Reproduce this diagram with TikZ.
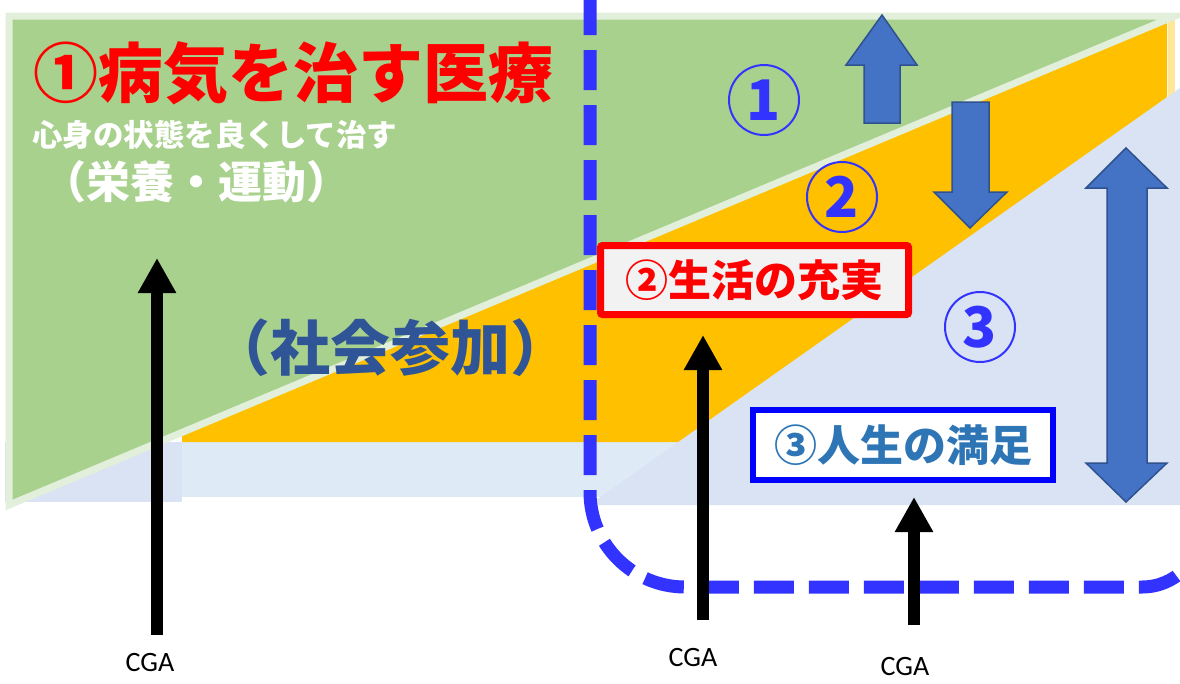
\documentclass[tikz,border=0pt]{standalone}
\usepackage{fontspec}
\newfontfamily\cjk{Noto Sans CJK JP}
\setsansfont{Carlito}
\usetikzlibrary{arrows.meta}
\definecolor{grn}{HTML}{A9D18E}
\definecolor{grnpale}{HTML}{E2EFDA}
\definecolor{org}{HTML}{FFC000}
\definecolor{orgpale}{HTML}{FFE699}
\definecolor{lblue}{HTML}{DAE3F3}
\definecolor{bandblue}{HTML}{DEEBF7}
\definecolor{arrfill}{HTML}{4472C4}
\definecolor{arrdraw}{HTML}{2F528F}
\definecolor{dashblue}{HTML}{3333FF}
\definecolor{navy}{HTML}{2F5597}
\definecolor{midblue}{HTML}{2E75B6}
\definecolor{boxgray}{HTML}{F2F2F2}
\definecolor{pureblue}{HTML}{0000FF}
\definecolor{purered}{HTML}{FF0000}
\begin{document}
\begin{tikzpicture}[x=1pt,y=-1pt,
  blockarrow/.style={fill=arrfill,draw=arrdraw,line width=1.5pt,line join=miter},
  cga/.style={font=\sffamily\fontsize{28}{30}\selectfont,inner sep=0pt},
  cgaarrow/.style={line width=12pt,-{Triangle[width=36pt,length=35pt]}},
  numcircle/.style={circle,draw=dashblue,line width=2pt,minimum size=70pt,inner sep=0pt,text=dashblue,font=\cjk\bfseries\fontsize{56}{56}\selectfont},
  txt/.style={inner sep=0pt}]
\useasboundingbox (0,0) rectangle (1180,683);
\clip (0,0) rectangle (1180,683);
\fill[white] (0,0) rectangle (1180,683);
% bands and background shapes
\fill[lblue] (5,442) rectangle (182,502);
\fill[bandblue] (182,442) rectangle (1180,497);
\fill[org] (182,442) -- (182,428) -- (1167,15) -- (1167,442) -- cycle;
\draw[orgpale,line width=7pt] (1171,17) -- (1171,100);
\fill[lblue] (589,505) -- (1180,88) -- (1180,505) -- cycle;
\filldraw[fill=grn,draw=grnpale,line width=7pt,line join=miter] (9,16) -- (1175,16) -- (9,505) -- cycle;
% dashed boundary
\draw[dashblue,line width=13pt,dash pattern=on 40pt off 15pt]
  (590,-60) -- (590,492) .. controls (590,544.4) and (632.6,587) .. (685,587)
  -- (1142,587) .. controls (1175.1,587) and (1202,560.1) .. (1202,527) -- (1202,-60);
% block arrows
\filldraw[blockarrow] (882,15) -- (917,65) -- (900,65) -- (900,123) -- (864,123) -- (864,65) -- (846,65) -- cycle;
\filldraw[blockarrow] (952,102) -- (989,102) -- (989,192) -- (1007,192) -- (970,228) -- (934,192) -- (952,192) -- cycle;
\filldraw[blockarrow] (1126,148) -- (1167,188) -- (1147,188) -- (1147,463) -- (1167,463) -- (1126,502) -- (1086,463) -- (1107,463) -- (1107,188) -- (1086,188) -- cycle;
% circled numbers
\node[numcircle] (n1) at (764,100) {1};
\node[numcircle] (n2) at (842,197) {2};
\node[numcircle] (n3) at (980,327) {3};
% texts
\node[txt,text=purered,font=\cjk\bfseries\fontsize{65}{70}\selectfont] (title) at (293,73) {①病気を治す医療};
\node[txt,anchor=west,text=white,font=\cjk\bfseries\fontsize{30.5}{34}\selectfont] (sub) at (32,135) {心身の状態を良くして治す};
\node[txt,text=white,font=\cjk\bfseries\fontsize{44}{48}\selectfont] (eiyo) at (196,182) {（栄養・運動）};
\node[txt,text=navy,font=\cjk\bfseries\fontsize{60}{64}\selectfont] (shakai) at (390,348) {（社会参加）};
\node[draw=purered,line width=7pt,fill=boxgray,rounded corners=2pt,minimum width=308pt,minimum height=69pt,inner sep=0pt,
  text=purered,font=\cjk\bfseries\fontsize{43}{46}\selectfont] (seikatsu) at (754.5,280) {②生活の充実};
\node[draw=pureblue,line width=6pt,fill=white,minimum width=300pt,minimum height=70pt,inner sep=0pt,
  text=midblue,font=\cjk\bfseries\fontsize{43}{46}\selectfont] (jinsei) at (903,445) {③人生の満足};
% CGA arrows
\node[cga] (c1) at (150,662) {CGA};
\node[cga] (c2) at (693,657) {CGA};
\node[cga] (c3) at (905,666) {CGA};
\coordinate (a1s) at (157,635); \coordinate (a1t) at (157,258);
\coordinate (a2s) at (703,620); \coordinate (a2t) at (703,335);
\coordinate (a3s) at (914,625); \coordinate (a3t) at (914,497);
\draw[cgaarrow] (a1s) -- (a1t);
\draw[cgaarrow] (a2s) -- (a2t);
\draw[cgaarrow] (a3s) -- (a3t);
\end{tikzpicture}
\end{document}
